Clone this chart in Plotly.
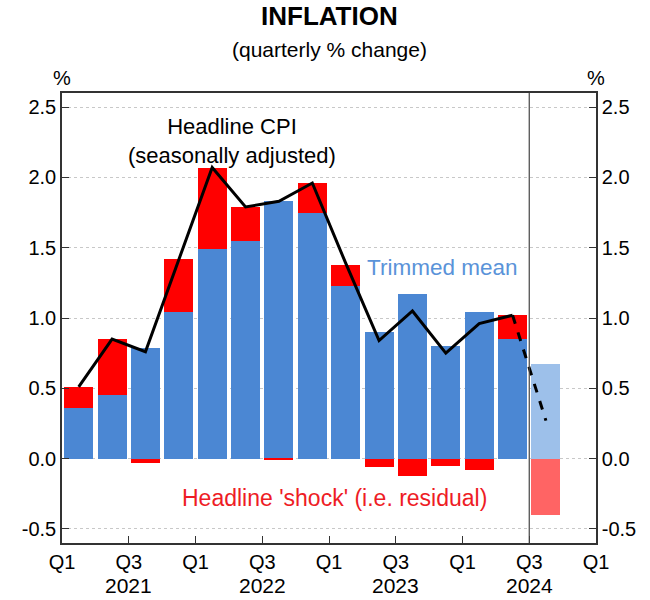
import plotly.graph_objects as go

# quarterly data, 2021 Q1 .. 2024 Q2 (actual) and 2024 Q3 (forecast)
quarters = ["2021Q1", "2021Q2", "2021Q3", "2021Q4",
            "2022Q1", "2022Q2", "2022Q3", "2022Q4",
            "2023Q1", "2023Q2", "2023Q3", "2023Q4",
            "2024Q1", "2024Q2"]
trimmed_mean = [0.36, 0.45, 0.79, 1.04, 1.49, 1.55, 1.83, 1.75,
                1.23, 0.90, 1.17, 0.80, 1.04, 0.85]
residual = [0.15, 0.40, -0.03, 0.38, 0.58, 0.24, -0.01, 0.21,
            0.15, -0.06, -0.12, -0.05, -0.08, 0.17]
headline = [0.51, 0.85, 0.76, 1.42, 2.07, 1.79, 1.83, 1.96,
            1.39, 0.84, 1.05, 0.75, 0.96, 1.02]

fc_quarter = "2024Q3"
fc_trimmed = 0.67
fc_residual = -0.40
fc_headline = 0.27

tick_pos = [0, 2, 4, 6, 8, 10, 12, 14, 16]
tick_text = ["Q1", "Q3", "Q1", "Q3", "Q1", "Q3", "Q1", "Q3", "Q1"]
years = ["2021", "2022", "2023", "2024"]
year_pos = [2, 6, 10, 14]
y_ticks = [-0.5, 0, 0.5, 1.0, 1.5, 2.0, 2.5]
y_labels = ["-0.5", "0.0", "0.5", "1.0", "1.5", "2.0", "2.5"]

BLUE = "#4B87D3"
RED = "#FF0000"
FONT = "Liberation Sans, Arial, sans-serif"

# bar centres sit mid-way between quarter boundaries
xs = [i + 0.5 for i in range(len(quarters))]
fc_x = len(quarters) + 0.5

fig = go.Figure()
fig.add_trace(go.Bar(x=xs, y=trimmed_mean, marker_color=BLUE, width=0.87,
                     marker_line_width=0, showlegend=False))
fig.add_trace(go.Bar(x=xs, y=residual, marker_color=RED, width=0.87,
                     marker_line_width=0, showlegend=False))
fig.add_trace(go.Bar(x=[fc_x], y=[fc_trimmed], marker_color="#9DC0EA", width=0.87,
                     marker_line_width=0, showlegend=False))
fig.add_trace(go.Bar(x=[fc_x], y=[fc_residual], marker_color="#FF6464", width=0.87,
                     marker_line_width=0, showlegend=False))

fig.add_trace(go.Scatter(x=xs, y=headline, mode="lines",
                         line=dict(color="black", width=3), showlegend=False))
fig.add_trace(go.Scatter(x=[xs[-1], fc_x], y=[headline[-1], fc_headline], mode="lines",
                         line=dict(color="black", width=3, dash="dash"), showlegend=False))
# dummy trace so the right-hand axis is drawn
fig.add_trace(go.Scatter(x=[0], y=[0], yaxis="y2", mode="markers",
                         marker_opacity=0, showlegend=False, hoverinfo="skip"))

# forecast divider
fig.add_shape(type="line", x0=14, x1=14, y0=0, y1=1, xref="x", yref="paper",
              line=dict(color="#444444", width=1.2))

fig.update_layout(
    width=650, height=600,
    margin=dict(l=62, r=54, t=93, b=57),
    paper_bgcolor="white", plot_bgcolor="white",
    barmode="relative", bargap=0,
    font=dict(family=FONT, size=20, color="black"),
    xaxis=dict(range=[0, 16], tickvals=tick_pos, ticktext=tick_text,
               ticks="inside", ticklen=7, tickcolor="#333333",
               showgrid=False, zeroline=False,
               showline=True, linecolor="#333333", linewidth=1.5, mirror=True),
    yaxis=dict(range=[-0.6, 2.6], tickvals=y_ticks, ticktext=y_labels,
               ticks="inside", ticklen=7, tickcolor="#333333",
               showgrid=True, gridcolor="#C8C8C8", griddash="dot", gridwidth=1,
               zeroline=False, showline=True, linecolor="#333333", linewidth=1.5),
    yaxis2=dict(range=[-0.6, 2.6], tickvals=y_ticks, ticktext=y_labels,
                overlaying="y", side="right",
                ticks="inside", ticklen=7, tickcolor="#333333",
                showgrid=False, zeroline=False, showline=True,
                linecolor="#333333", linewidth=1.5),
)

ann = []
ann.append(dict(text="<b>INFLATION</b>", x=0.5, y=1 + (93 - 16) / 450.0,
                xref="paper", yref="paper", yanchor="middle",
                showarrow=False, font=dict(size=26)))
ann.append(dict(text="(quarterly % change)", x=0.5, y=1 + (93 - 50) / 450.0,
                xref="paper", yref="paper", yanchor="middle",
                showarrow=False, font=dict(size=21)))
ann.append(dict(text="%", x=0, y=1, xref="paper", yref="paper", yshift=15,
                xanchor="center", yanchor="middle", showarrow=False, font=dict(size=20)))
ann.append(dict(text="%", x=1, y=1, xref="paper", yref="paper", yshift=15,
                xanchor="center", yanchor="middle", showarrow=False, font=dict(size=20)))
for yr, p in zip(years, year_pos):
    ann.append(dict(text=yr, x=p, y=0, xref="x", yref="paper", yshift=-42,
                    yanchor="middle", showarrow=False, font=dict(size=21)))
ann.append(dict(text="Headline CPI<br>(seasonally adjusted)", x=5.1, y=2.26,
                xref="x", yref="y", showarrow=False, font=dict(size=22, color="black")))
ann.append(dict(text="Trimmed mean", x=11.4, y=1.36, xref="x", yref="y",
                showarrow=False, font=dict(size=22.5, color="#5A93D9")))
ann.append(dict(text="Headline 'shock' (i.e. residual)", x=8.15, y=-0.28, xref="x", yref="y",
                showarrow=False, font=dict(size=23, color="#EE1C25")))
fig.update_layout(annotations=ann)

# drop the default page margin so the chart sits at the window corner
fig.write_html("out.html", config={"displayModeBar": False},
               post_script="document.body.style.margin='0px';")
